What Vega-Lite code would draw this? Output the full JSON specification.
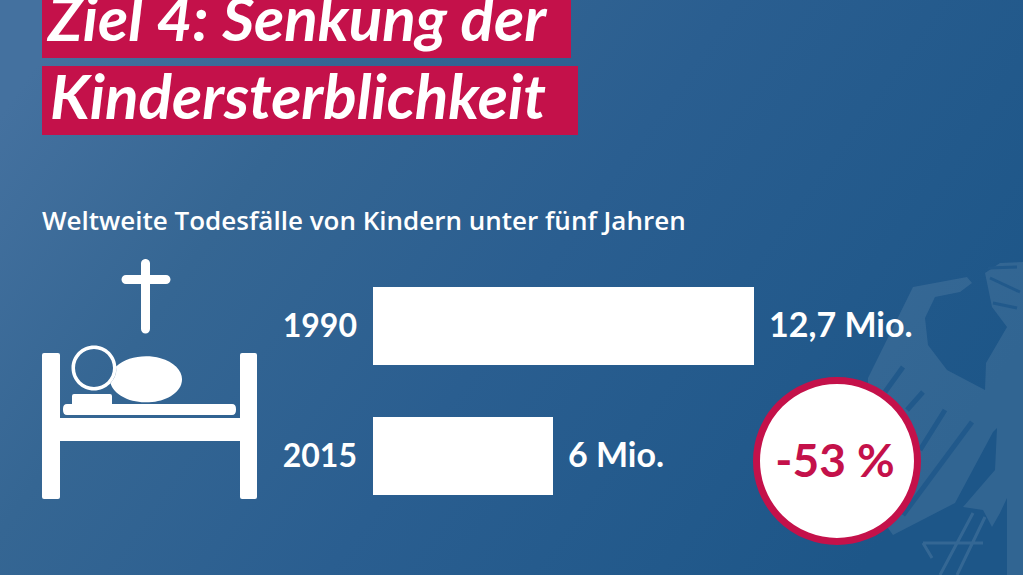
{
  "$schema": "https://vega.github.io/schema/vega-lite/v6.json",
  "width": 1023,
  "height": 575,
  "autosize": "none",
  "padding": 0,
  "background": "#2c5f90",
  "view": {"stroke": null},
  "config": {"text": {"font": "Lato", "fontWeight": 700}},
  "data": {
    "values": [
      {"year": "1990", "value": 12.7, "label": "12,7 Mio."},
      {"year": "2015", "value": 6, "label": "6 Mio."}
    ]
  },
  "layer": [
    {
      "data": {"values": [{}]},
      "mark": {
        "type": "rect",
        "x": 0, "x2": 1023, "y": 0, "y2": 575,
        "color": {
          "gradient": "linear",
          "x1": 0, "y1": 0.2, "x2": 1, "y2": 0.6,
          "stops": [
            {"offset": 0, "color": "#44719f"},
            {"offset": 0.25, "color": "#356693"},
            {"offset": 0.55, "color": "#2a5e90"},
            {"offset": 1, "color": "#1d5688"}
          ]
        }
      },
      "encoding": {}
    },
    {
      "data": {"values": [{}]},
      "mark": {
        "type": "point",
        "x": 0, "y": 0, "size": 4, "filled": true,
        "color": "#ffffff", "opacity": 0.09,
        "shape": "M913 287L967 277L972 283L960 292L935 297L925 318L928 345L947 370L985 390L986 363L1007 327L992 307L985 273L1000 263L1023 262L1023 575L1007 575L1007 498L1000 513L992 527L983 510L963 507L995 470L997 428L993 432L955 503L893 535L868 500L868 378Z"
      },
      "encoding": {}
    },
    {
      "data": {"values": [{}]},
      "mark": {
        "type": "point",
        "x": 0, "y": 0, "size": 4, "filled": false,
        "stroke": "#21598b", "strokeWidth": 5, "opacity": 1,
        "shape": "M885 392L903 367M907 410L923 392M920 450L945 410M903 515L972 422"
      },
      "encoding": {}
    },
    {
      "data": {"values": [{}]},
      "mark": {
        "type": "point",
        "x": 0, "y": 0, "size": 4, "filled": false,
        "stroke": "#21598b", "strokeWidth": 3, "opacity": 1,
        "shape": "M988 268L1017 267M990 278L1020 292M993 303L1017 308"
      },
      "encoding": {}
    },
    {
      "data": {"values": [{}]},
      "mark": {
        "type": "point",
        "x": 0, "y": 0, "size": 4, "filled": false,
        "stroke": "#ffffff", "strokeWidth": 3, "opacity": 0.1,
        "shape": "M923 543L983 543M923 543L932 558M940 575L973 513M957 575L985 517"
      },
      "encoding": {}
    },
    {
      "data": {"values": [{}]},
      "mark": {"type": "rect", "x": 42, "x2": 571, "y": 0, "y2": 58, "color": "#c4114a"},
      "encoding": {}
    },
    {
      "data": {"values": [{}]},
      "mark": {"type": "rect", "x": 42, "x2": 578, "y": 66, "y2": 135, "color": "#c4114a"},
      "encoding": {}
    },
    {
      "data": {"values": [{"line": "Ziel 4: Senkung der"}]},
      "mark": {
        "type": "text", "x": 48, "y": 41, "align": "left", "baseline": "alphabetic",
        "fontStyle": "italic", "fontWeight": 700, "fontSize": 62, "color": "#ffffff"
      },
      "encoding": {"text": {"field": "line"}}
    },
    {
      "data": {"values": [{"line": "Kindersterblichkeit"}]},
      "mark": {
        "type": "text", "x": 50, "y": 119, "align": "left", "baseline": "alphabetic",
        "fontStyle": "italic", "fontWeight": 700, "fontSize": 62, "color": "#ffffff"
      },
      "encoding": {"text": {"field": "line"}}
    },
    {
      "data": {"values": [{"line": "Weltweite Todesfälle von Kindern unter fünf Jahren"}]},
      "mark": {
        "type": "text", "x": 42, "y": 230, "align": "left", "baseline": "alphabetic",
        "font": "Open Sans", "fontWeight": 600, "fontSize": 26, "color": "#ffffff"
      },
      "encoding": {"text": {"field": "line"}}
    },
    {
      "data": {"values": [{}]},
      "mark": {
        "type": "point",
        "x": 0, "y": 0, "size": 4, "filled": true, "color": "#ffffff", "opacity": 1,
        "shape": "M44 353H58Q60 353 60 355V418H240V355Q240 353 242 353H255Q257 353 257 355V497Q257 499 255 499H242Q240 499 240 497V441H60V497Q60 499 58 499H44Q42 499 42 497V355Q42 353 44 353ZM67 404H72V396Q72 394 74 394H110Q112 394 112 396V404H232Q236 404 236 409V410Q236 415 232 415H67Q63 415 63 410V409Q63 404 67 404ZM116.4 366.3A36 23 0 1 1 110.5 383A22.5 22.5 0 0 0 116.4 366.3ZM94 345.5A22.5 22.5 0 1 0 94 390.5A22.5 22.5 0 1 0 94 345.5ZM94 349A19 19 0 1 1 94 387A19 19 0 1 1 94 349ZM145 259A4.5 4.5 0 0 1 150 263V275H166A4.5 4.5 0 0 1 166 284H150V329A4.5 4.5 0 0 1 141 329V284H126A4.5 4.5 0 0 1 126 275H141V263A4.5 4.5 0 0 1 145 259Z"
      },
      "encoding": {}
    },
    {
      "mark": {"type": "bar", "size": 78, "color": "#ffffff"},
      "encoding": {
        "x": {"field": "value", "type": "quantitative", "axis": null, "scale": {"domain": [0, 12.7], "nice": false, "range": [373, 754]}},
        "y": {"field": "year", "type": "ordinal", "axis": null, "scale": {"type": "point", "padding": 0, "domain": ["1990", "2015"], "range": [326, 456]}}
      }
    },
    {
      "mark": {"type": "text", "align": "right", "baseline": "middle", "dx": -16, "dy": 1, "fontSize": 32, "color": "#ffffff"},
      "encoding": {
        "x": {"datum": 0, "type": "quantitative"},
        "y": {"field": "year", "type": "ordinal"},
        "text": {"field": "year"}
      }
    },
    {
      "mark": {"type": "text", "align": "left", "baseline": "middle", "dx": 15, "dy": 1, "fontSize": 34, "color": "#ffffff"},
      "encoding": {
        "x": {"field": "value", "type": "quantitative"},
        "y": {"field": "year", "type": "ordinal"},
        "text": {"field": "label"}
      }
    },
    {
      "data": {"values": [{}]},
      "mark": {
        "type": "point", "shape": "circle", "x": 837, "y": 461, "size": 25921, "filled": true,
        "fill": "#ffffff", "stroke": "#c4114a", "strokeWidth": 7, "opacity": 1
      },
      "encoding": {}
    },
    {
      "data": {"values": [{"change": "-53 %"}]},
      "mark": {
        "type": "text", "x": 835, "y": 477, "align": "center", "baseline": "alphabetic",
        "fontSize": 46, "color": "#c4114a"
      },
      "encoding": {"text": {"field": "change"}}
    }
  ]
}
